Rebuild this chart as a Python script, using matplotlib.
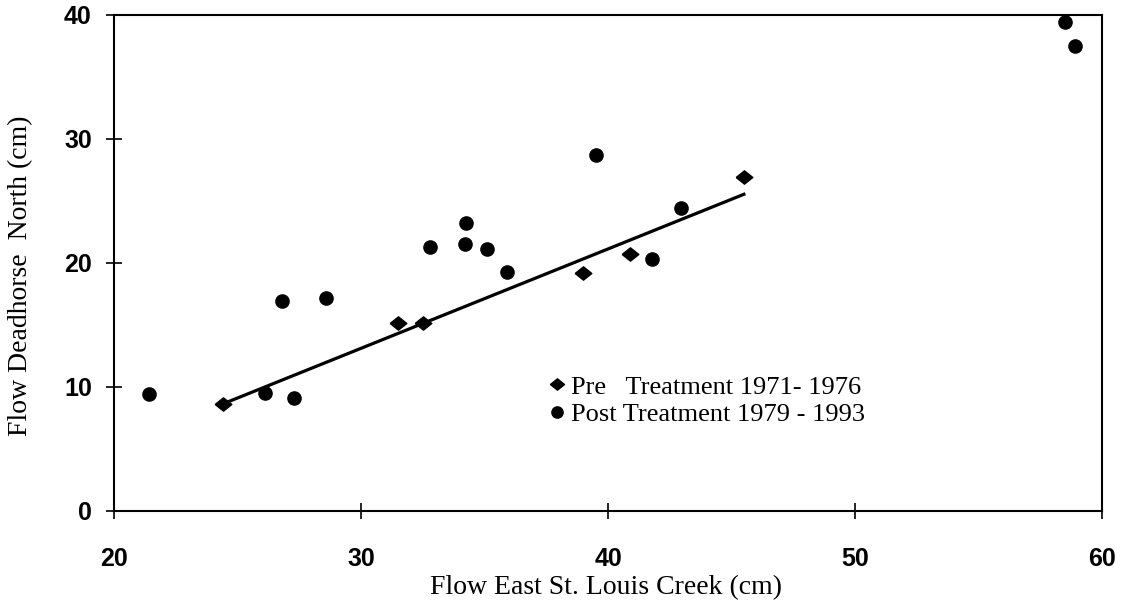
import matplotlib.pyplot as plt
import numpy as np

# pre treatment points (1971-1976)
pre_x = [24.4, 31.5, 32.5, 39.0, 40.9, 45.5]
pre_y = [8.6, 15.2, 15.2, 19.2, 20.7, 26.9]

# post treatment points (1979-1993)
post_x = [21.4, 26.1, 26.8, 27.3, 28.6, 32.8, 34.2, 34.25, 35.1, 35.9,
          39.5, 41.8, 42.95, 58.5, 58.9]
post_y = [9.4, 9.5, 16.9, 9.1, 17.2, 21.3, 21.5, 23.2, 21.1, 19.3,
          28.7, 20.3, 24.4, 39.4, 37.5]

xticks = [20, 30, 40, 50, 60]
yticks = [0, 10, 20, 30, 40]

# flat diamond like the scanned one
flat_diamond = [(-1, 0), (0, 0.8), (1, 0), (0, -0.8), (-1, 0)]

fig = plt.figure(figsize=(11.22, 6.14), dpi=100)
ax = fig.add_axes([114 / 1122, 1 - 511 / 614, 988 / 1122, 496 / 614])

ax.plot(pre_x, pre_y, linestyle='none', marker=flat_diamond, markersize=12,
        color='black', label='Pre   Treatment 1971- 1976')
ax.plot(post_x, post_y, linestyle='none', marker='o', markersize=9.5,
        color='black', label='Post Treatment 1979 - 1993')

# regression line fitted through the pre treatment points
slope, icpt = np.polyfit(pre_x, pre_y, 1)
fx = np.array([min(pre_x), max(pre_x)])
ax.plot(fx, slope * fx + icpt, color='black', linewidth=2.3)

ax.set_xlim(20, 60)
ax.set_ylim(0, 40)
ax.set_xticks(xticks)
ax.set_yticks(yticks)
for s in ax.spines.values():
    s.set_linewidth(1.5)
ax.tick_params(direction='inout', length=12, width=1.2, labelsize=18)
ax.tick_params(axis='x', pad=20)
ax.tick_params(axis='y', pad=10)
for lab in ax.get_xticklabels() + ax.get_yticklabels():
    lab.set_fontfamily('Liberation Sans')
    lab.set_fontweight('bold')

ax.set_xlabel('Flow East St. Louis Creek (cm)', fontfamily='Liberation Serif',
              fontsize=20)
ax.set_ylabel('Flow Deadhorse  North (cm)', fontfamily='Liberation Serif',
              fontsize=20)
ax.xaxis.set_label_coords(0.498, -0.13)
ax.yaxis.set_label_coords(-0.082, 0.475)

ax.legend(loc='upper left', bbox_to_anchor=(537 / 1122, 1 - 362 / 614),
          bbox_transform=fig.transFigure, frameon=False,
          prop={'family': 'Liberation Serif', 'size': 19},
          handlelength=0.5, handletextpad=0.3, borderpad=0, labelspacing=0.15,
          markerscale=0.85)

fig.savefig('out.png', dpi=100)
